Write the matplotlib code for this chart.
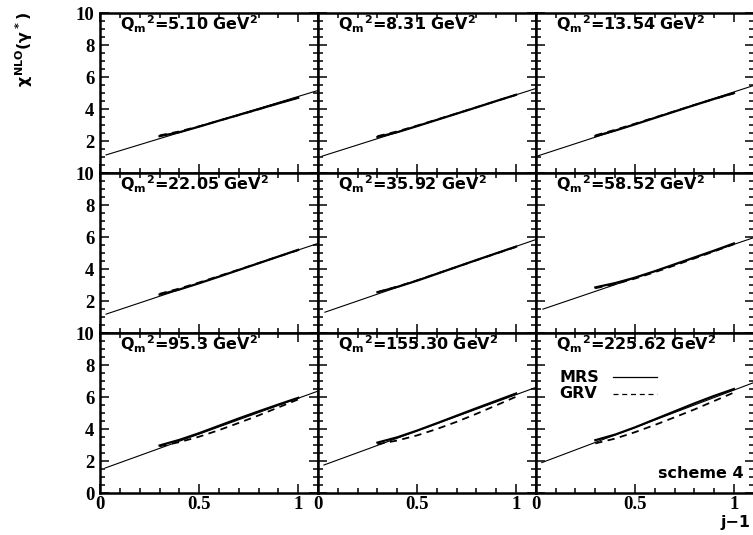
import numpy as np
import matplotlib
matplotlib.use("Agg")
import matplotlib.pyplot as plt
from matplotlib.ticker import MultipleLocator

plt.rcParams['font.family'] = ['DejaVu Sans']
plt.rcParams['mathtext.fontset'] = 'custom'
plt.rcParams['mathtext.rm'] = 'DejaVu Sans:bold'
plt.rcParams['mathtext.it'] = 'DejaVu Sans:bold'
plt.rcParams['mathtext.bf'] = 'DejaVu Sans:bold'

# Q_m^2 values for the nine panels
q2_labels = ['5.10', '8.31', '13.54', '22.05', '35.92', '58.52', '95.3', '155.30', '225.62']

# thin straight line: start x, value at start, value at x=1.1
line_x0 = [0.03, 0.02, 0.01, 0.03, 0.035, 0.035, 0.025, 0.03, 0.03]
line_y0 = [1.13, 1.05, 1.07, 1.18, 1.30, 1.49, 1.56, 1.75, 1.90]
line_y1 = [5.16, 5.28, 5.47, 5.60, 5.84, 5.96, 6.37, 6.60, 6.90]
line_x1 = 1.1

# curves, j-1 from 0.3 to 1.0
x_curve = [0.3, 0.4, 0.5, 0.6, 0.7, 0.8, 0.9, 1.0]
mrs = [
    [2.30, 2.55, 2.90, 3.27, 3.63, 3.99, 4.35, 4.70],
    [2.25, 2.55, 2.93, 3.32, 3.71, 4.10, 4.50, 4.89],
    [2.30, 2.65, 3.04, 3.44, 3.84, 4.24, 4.63, 5.00],
    [2.40, 2.72, 3.11, 3.52, 3.94, 4.36, 4.78, 5.20],
    [2.55, 2.88, 3.27, 3.70, 4.13, 4.56, 4.98, 5.40],
    [2.85, 3.12, 3.46, 3.86, 4.29, 4.72, 5.15, 5.60],
    [2.97, 3.32, 3.74, 4.20, 4.66, 5.10, 5.53, 5.95],
    [3.15, 3.48, 3.90, 4.36, 4.83, 5.30, 5.76, 6.22],
    [3.30, 3.65, 4.10, 4.60, 5.10, 5.60, 6.07, 6.50],
]
grv = [
    [2.35, 2.60, 2.92, 3.27, 3.62, 3.98, 4.36, 4.72],
    [2.30, 2.60, 2.96, 3.34, 3.72, 4.11, 4.50, 4.88],
    [2.35, 2.70, 3.08, 3.47, 3.86, 4.25, 4.63, 4.98],
    [2.45, 2.78, 3.16, 3.56, 3.96, 4.37, 4.78, 5.18],
    [2.55, 2.90, 3.29, 3.71, 4.13, 4.55, 4.97, 5.38],
    [2.80, 3.06, 3.40, 3.80, 4.22, 4.66, 5.10, 5.55],
    [2.92, 3.18, 3.52, 3.93, 4.38, 4.85, 5.35, 5.85],
    [3.05, 3.28, 3.60, 4.00, 4.45, 4.95, 5.48, 6.02],
    [3.10, 3.40, 3.80, 4.25, 4.73, 5.22, 5.75, 6.28],
]

x_ticks = [0, 0.5, 1]
x_ticklabels = ['0', '0.5', '1']
y_ticks = [0, 2, 4, 6, 8, 10]

fig, axes = plt.subplots(3, 3, figsize=(7.53, 5.35), dpi=100)
fig.subplots_adjust(left=0.133, right=1.001, bottom=0.0785, top=0.9757,
                    wspace=0, hspace=0)

tickfont = dict(family='Liberation Serif', weight='bold', size=13.5)
txt = dict(fontsize=11.5, fontweight='bold')

for i, ax in enumerate(axes.flat):
    row, col = divmod(i, 3)
    ax.plot([line_x0[i], line_x1], [line_y0[i], line_y1[i]], color='black', lw=0.8)
    ax.plot(x_curve, mrs[i], color='black', lw=1.6, ls='-')
    ax.plot(x_curve, grv[i], color='black', lw=1.3, ls=(0, (4, 3)))

    ax.set_xlim(0, 1.1)
    ax.set_ylim(0, 10)
    ax.xaxis.set_minor_locator(MultipleLocator(0.1))
    ax.yaxis.set_minor_locator(MultipleLocator(0.5))
    ax.set_xticks(x_ticks)
    ax.set_yticks(y_ticks)
    ax.tick_params(which='both', direction='in', top=True, right=True, width=1.1)
    ax.tick_params(which='major', length=6.5)
    ax.tick_params(which='minor', length=3.5)
    for s in ax.spines.values():
        s.set_linewidth(1.8)

    if row == 2:
        ax.set_xticklabels(x_ticklabels, fontdict=tickfont)
        ax.tick_params(axis='x', pad=2)
    else:
        ax.set_xticklabels([])
    if col == 0:
        ylabs = ['0' if row == 2 else ''] + [str(v) for v in y_ticks[1:]]
        ax.set_yticklabels(ylabs, fontdict=tickfont)
        ax.tick_params(axis='y', pad=4)
    else:
        ax.set_yticklabels([])

    ax.text(0.1, 8.95, r'${\mathrm{Q_m}}^\mathrm{2}$=' + q2_labels[i] + r' GeV$^\mathrm{2}$',
            va='baseline', ha='left', **txt)

# legend in the last panel
ax = axes[2, 2]
ax.text(0.12, 7.25, 'MRS', va='center', **txt)
ax.plot([0.39, 0.61], [7.25, 7.25], color='black', lw=0.9)
ax.text(0.12, 6.2, 'GRV', va='center', **txt)
ax.plot([0.39, 0.61], [6.2, 6.2], color='black', lw=0.9, ls=(0, (4, 3)))
ax.text(1.05, 1.2, 'scheme 4', va='center', ha='right', **txt)

fig.text(0.032, 0.978, r'$\chi^{\mathrm{NLO}}(\gamma^*)$', rotation=90, fontsize=11.5,
         va='top', ha='center')
fig.text(0.997, 0.01, 'j−1', fontsize=11.5, fontweight='bold', ha='right', va='bottom')

fig.savefig('out.png', dpi=100)
